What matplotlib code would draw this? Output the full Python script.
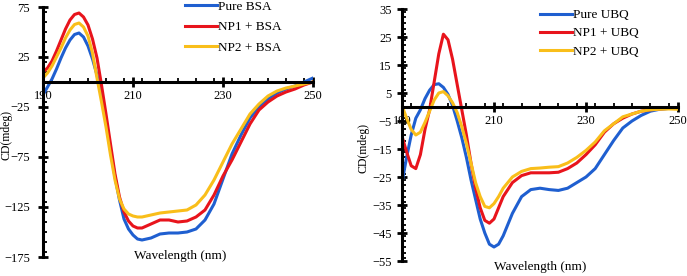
import matplotlib.pyplot as plt
from matplotlib.ticker import MultipleLocator

plt.rcParams["font.family"] = ["Liberation Serif", "DejaVu Serif"]

# BSA panel: 1 nm up to 212, then 2 nm
wl_bsa = list(range(190, 213)) + list(range(214, 251, 2))
pure_bsa = [-13, -5, 3, 13, 24, 34, 42, 47.5, 49, 45, 36, 23, 7, -14, -40, -68, -95, -118, -137,
            -147, -153, -157, -158,
            -156, -152, -151, -151, -150, -147, -138, -122, -97, -72, -53, -36, -25, -17, -11,
            -7, -4, 0, 4]
np1_bsa = [10, 14, 21, 31, 42, 53, 62, 67.5, 69, 65, 57, 43, 24, -3, -32, -62, -92, -115, -130,
           -139, -144, -146, -146,
           -142, -138, -138, -140, -139, -135, -128, -113, -94, -78, -60, -42, -28, -20, -14,
           -10, -7, -3, 0]
np2_bsa = [4, 9, 16, 25, 34, 44, 52, 57.5, 59, 55, 46, 29, 4, -20, -45, -73, -98, -117, -127,
           -132, -134, -135, -135,
           -133, -131, -130, -129, -128, -123, -113, -98, -80, -62, -47, -32, -22, -14, -9,
           -6, -4, -2, 0]

# UBQ panel: 1 nm up to 212, then 2 nm
wl_ubq = list(range(190, 213)) + list(range(214, 251, 2))
pure_ubq = [-27, -18, -10, -4, -1, 3, 6, 8, 8.3, 7, 4.5, 0.5, -5, -11, -18, -26, -33, -40, -45,
            -49, -50, -49, -46,
            -38, -32, -29.5, -29, -29.5, -29.8, -29, -27, -25, -22, -17, -12, -7.5, -5, -3,
            -1.5, -0.8, -0.5, -0.5]
np1_ubq = [-10.5, -16, -21, -22, -17, -8, -1, 9, 19, 26, 24, 17, 8, -1, -10, -20, -29, -36, -40.5,
           -41.5, -40, -36, -32,
           -27, -24.5, -23.5, -23.5, -23.5, -23.3, -22, -20, -17, -13.5, -9, -6, -4, -2.5, -1.5,
           -1, -0.7, -0.5, -0.5]
np2_ubq = [0.5, -4, -8, -10, -9, -5.5, -1.5, 2.5, 5, 5.5, 4, 1.5, -2, -7, -13, -20, -27, -32, -35.5,
           -36, -34.5, -32, -29,
           -25, -23, -22, -21.8, -21.5, -21.3, -20, -18, -15.5, -12.5, -8.5, -6, -3.5, -2.5, -1.5,
           -1, -0.8, -0.7, -0.8]

blue = "#1f5fd0"
red = "#e8141c"
yellow = "#f9be1a"

fig = plt.figure(figsize=(6.87, 2.76), dpi=100)
ax1 = fig.add_axes([43 / 687, 1 - 257 / 276, 270 / 687, 250 / 276])
ax2 = fig.add_axes([402 / 687, 1 - 261 / 276, 276 / 687, 252 / 276])


def style_axis(ax, ylo, yhi, ymaj, ymin, ypad):
    ax.set_xlim(190, 250)
    ax.set_ylim(ylo, yhi)
    for s in ["top", "right"]:
        ax.spines[s].set_visible(False)
    ax.spines["bottom"].set_position(("data", 0))
    ax.spines["left"].set_linewidth(2.2)
    ax.spines["bottom"].set_linewidth(2.2)
    ax.set_xticks([190, 210, 230, 250])
    ax.xaxis.set_minor_locator(MultipleLocator(4))
    ax.yaxis.set_minor_locator(MultipleLocator(ymin))
    ax.set_yticks(list(range(ylo, yhi + 1, ymaj)))
    ax.tick_params(which="major", direction="inout", length=7, width=2, labelsize=9)
    ax.tick_params(axis="x", which="major", pad=2)
    ax.tick_params(axis="y", which="major", pad=ypad)
    ax.tick_params(which="minor", direction="in", length=3, width=1.3)
    ax.patch.set_visible(False)


ax1.plot(wl_bsa, pure_bsa, color=blue, lw=2.2, label="Pure BSA")
ax1.plot(wl_bsa, np1_bsa, color=red, lw=2.2, label="NP1 + BSA")
ax1.plot(wl_bsa, np2_bsa, color=yellow, lw=2.2, label="NP2 + BSA")
style_axis(ax1, -175, 75, 50, 10, 6)
ax1.set_ylabel("CD(mdeg)", fontsize=8.5)
ax1.yaxis.set_label_coords(-0.112, 0.488)
fig.text(180 / 687, 1 - 256 / 276, "Wavelength (nm)", fontsize=9.5, ha="center", va="center")
ax1.legend(loc="upper left", bbox_to_anchor=(185 / 687, 0.999), bbox_transform=fig.transFigure,
           frameon=False, fontsize=9.5, handlelength=2.4, handletextpad=0.1,
           labelspacing=0.64, borderpad=0, borderaxespad=0)

ax2.plot(wl_ubq, pure_ubq, color=blue, lw=2.2, label="Pure UBQ")
ax2.plot(wl_ubq, np1_ubq, color=red, lw=2.2, label="NP1 + UBQ")
ax2.plot(wl_ubq, np2_ubq, color=yellow, lw=2.2, label="NP2 + UBQ")
style_axis(ax2, -55, 35, 10, 2, 4)
ax2.set_ylabel("CD(mdeg)", fontsize=8.5)
ax2.yaxis.set_label_coords(-0.116, 0.45)
fig.text(540 / 687, 1 - 267 / 276, "Wavelength (nm)", fontsize=9.5, ha="center", va="center")
ax2.legend(loc="upper left", bbox_to_anchor=(540 / 687, 1 - 9 / 276), bbox_transform=fig.transFigure,
           frameon=False, fontsize=9.5, handlelength=2.4, handletextpad=0.1,
           labelspacing=0.45, borderpad=0, borderaxespad=0)

fig.savefig("out.png", dpi=100)
